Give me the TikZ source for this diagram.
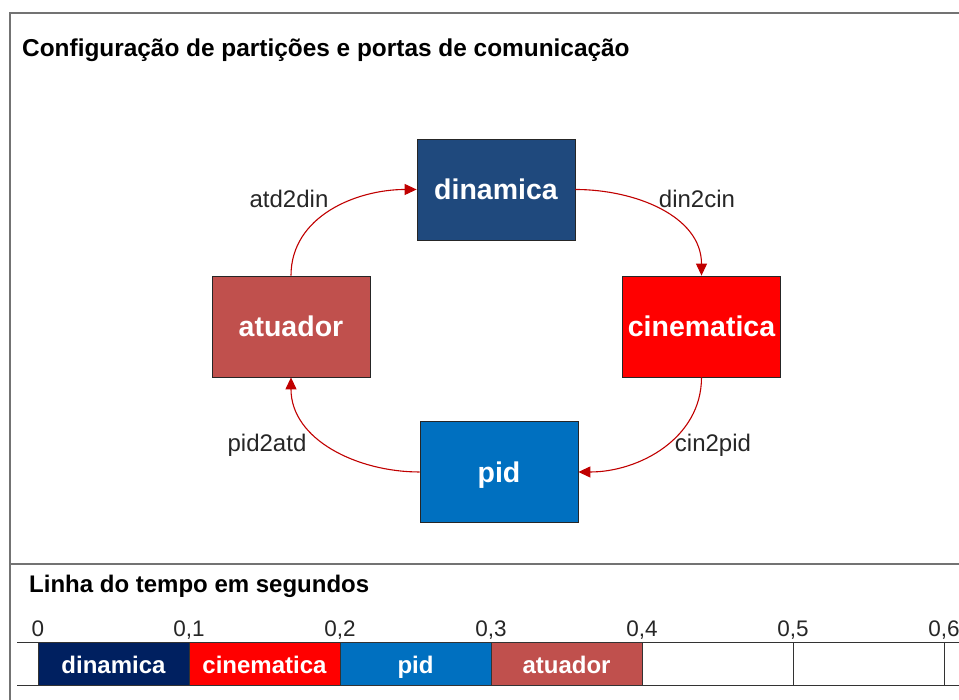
\documentclass[tikz,border=0pt]{standalone}
\usepackage{fontspec}
\setmainfont{Liberation Sans}
\usepackage{tikz}
\usetikzlibrary{arrows.meta, positioning}

\definecolor{dinblue}{RGB}{31,73,125}
\definecolor{dinnavy}{RGB}{0,32,96}
\definecolor{cinred}{RGB}{255,0,0}
\definecolor{pidblue}{RGB}{0,112,192}
\definecolor{atured}{RGB}{192,80,77}
\definecolor{portred}{RGB}{192,0,0}

\begin{document}
\begin{tikzpicture}[
    x=1pt, y=1pt,
    part/.style={rectangle, draw=black!85, line width=0.8pt,
                 minimum width=158pt, minimum height=101pt, text=white,
                 text height=20.5pt, text depth=0pt,
                 font=\fontsize{28.5}{32}\selectfont\bfseries},
    port/.style={draw=portred, line width=1.1pt,
                 -{Triangle[length=12pt,width=11pt]}},
    lbl/.style={font=\fontsize{24}{28}\selectfont, text=black!85},
    head/.style={font=\fontsize{24.4}{28}\selectfont\bfseries, anchor=base west,
                 inner sep=0pt},
    thead/.style={head, font=\fontsize{24}{28}\selectfont\bfseries},
    slot/.style={rectangle, draw=black!80, line width=1pt, minimum width=151pt,
                 minimum height=43pt, inner sep=0pt, outer sep=0pt, text=white,
                 text height=17.3pt, text depth=0pt,
                 font=\fontsize{24}{28}\selectfont\bfseries},
    tick/.style={font=\fontsize{22.5}{26}\selectfont, inner sep=0pt,
                 text depth=0pt, text=black!85},
    frame/.style={draw=black!55, line width=1.5pt}
]
\useasboundingbox (0,0) rectangle (959,700);

% moldura
\coordinate (ftl) at (10,687);
\coordinate (fbl) at (10,0);
\coordinate (ftr) at (959,687);
\coordinate (dl) at (10,136);
\coordinate (dr) at (959,136);
\draw[frame] (fbl) -- (ftl) -- (ftr);
\draw[frame] (dl) -- (dr);

\node[head] (title) at (22,643) {Configuração de partições e portas de comunicação};

% particoes
\node[part, fill=dinblue] (dinamica) at (496,510.5) {dinamica};
\node[part, fill=cinred] (cinematica) at (701.5,373.5) {cinematica};
\node[part, fill=atured] (atuador) at (291,373.5) {atuador};
\node[part, fill=pidblue] (pid) at (499,228) {pid};

% portas
\draw[port] (atuador.north) to[out=90, in=180] (dinamica.west);
\draw[port] (dinamica.east) to[out=0, in=90] (cinematica.north);
\draw[port] (cinematica.south) to[out=-90, in=0] (pid.east);
\draw[port] (pid.west) to[out=180, in=-90] (atuador.south);

\node[lbl] (atd2din) at (289,501) {atd2din};
\node[lbl] (din2cin) at (697,501) {din2cin};
\node[lbl] (pid2atd) at (267,255) {pid2atd};
\node[lbl] (cin2pid) at (713,255) {cin2pid};

% linha do tempo
\node[thead] (ttitle) at (29,107) {Linha do tempo em segundos};

\node[slot, fill=dinnavy] (t1) at (113.5,35.5) {dinamica};
\node[slot, fill=cinred, right=0pt of t1] (t2) {cinematica};
\node[slot, fill=pidblue, right=0pt of t2] (t3) {pid};
\node[slot, fill=atured, right=0pt of t3] (t4) {atuador};
\node[slot, right=0pt of t4] (t5) {};
\node[slot, right=0pt of t5] (t6) {};

\coordinate (bt0) at (17,57);
\coordinate (bt1) at (959,57);
\coordinate (bb0) at (17,14);
\coordinate (bb1) at (959,14);
\draw[draw=black!80, line width=1pt] (bt0) -- (bt1);
\draw[draw=black!80, line width=1pt] (bb0) -- (bb1);

\node[tick, above=6pt of t1.north west] (s0) {0};
\node[tick, above=6pt of t2.north west] (s1) {0,1};
\node[tick, above=6pt of t3.north west] (s2) {0,2};
\node[tick, above=6pt of t4.north west] (s3) {0,3};
\node[tick, above=6pt of t5.north west] (s4) {0,4};
\node[tick, above=6pt of t6.north west] (s5) {0,5};
\node[tick, above=6pt of t6.north east] (s6) {0,6};

\end{tikzpicture}
\end{document}
